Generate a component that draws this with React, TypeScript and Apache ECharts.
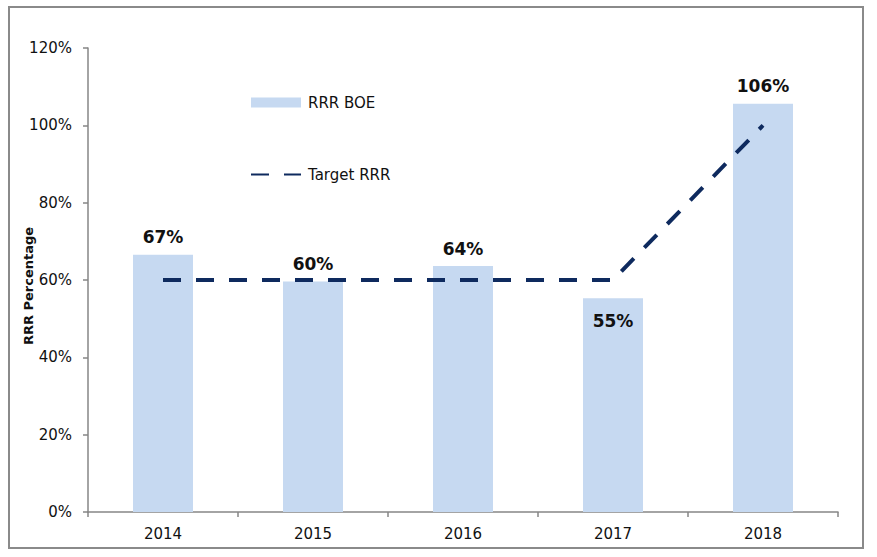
import React, { useEffect, useRef } from "react";
import * as echarts from "echarts";

const categories = ["2014", "2015", "2016", "2017", "2018"];
const rrrBoe = [66.5, 59.6, 63.6, 55.3, 105.6];
const targetRrr = [60, 60, 60, 60, 100];
const yTicks = [0, 20, 40, 60, 80, 100, 120];
const yAxisTitle = "RRR Percentage";

const FONT = "'DejaVu Sans', 'Open Sans', sans-serif";

export default function App() {
  const ref = useRef<HTMLDivElement>(null);
  useEffect(() => {
    if (!ref.current) return;
    const chart = echarts.init(ref.current, undefined, { renderer: "svg" });
    chart.setOption({
      animation: false,
      backgroundColor: "#ffffff",
      textStyle: { fontFamily: FONT },
      graphic: [
        {
          type: "rect",
          shape: { x: 9, y: 7, width: 854, height: 541 },
          style: { fill: "none", stroke: "#8a8a8a", lineWidth: 2 },
          silent: true,
        },
        {
          type: "text",
          x: 28,
          y: 286,
          rotation: Math.PI / 2,
          style: {
            text: yAxisTitle,
            font: "bold 13px " + FONT,
            fill: "#111",
            align: "center",
            verticalAlign: "middle",
          },
          silent: true,
        },
      ],
      legend: {
        orient: "vertical",
        left: 250,
        top: 95,
        padding: 0,
        itemGap: 57,
        itemWidth: 50,
        itemHeight: 10,
        itemStyle: { borderWidth: 0 },
        textStyle: { fontFamily: FONT, fontSize: 15, color: "#111", padding: [0, 0, 0, 2] },
        data: [
          { name: "RRR BOE", icon: "rect" },
          { name: "Target RRR", itemStyle: { opacity: 0 } },
        ],
      },
      grid: { left: 88, right: 39, top: 48, bottom: 45, containLabel: false },
      xAxis: {
        type: "category",
        data: categories,
        boundaryGap: true,
        axisLine: { lineStyle: { color: "#868686", width: 1.5 } },
        axisTick: { show: true, length: 5, alignWithLabel: false, lineStyle: { color: "#868686", width: 1.5 } },
        axisLabel: { color: "#111", fontSize: 15, fontFamily: FONT, margin: 14 },
      },
      yAxis: {
        type: "value",
        min: 0,
        max: 120,
        interval: 20,
        axisLine: { show: true, lineStyle: { color: "#868686", width: 1.5 } },
        axisTick: { show: true, length: 5, lineStyle: { color: "#868686", width: 1.5 } },
        splitLine: { show: false },
        axisLabel: {
          color: "#111",
          fontSize: 15,
          fontFamily: FONT,
          margin: 16,
          formatter: (v: number) => (yTicks.includes(v) ? v + "%" : ""),
        },
      },
      series: [
        {
          name: "RRR BOE",
          type: "bar",
          data: rrrBoe.map((v, i) => ({
            value: v,
            label:
              i === 3
                ? { position: "insideTop", distance: 14 }
                : { position: "top", distance: 9 },
          })),
          barWidth: 60,
          itemStyle: { color: "#C6D9F1" },
          label: {
            show: true,
            fontWeight: "bold",
            fontSize: 17,
            color: "#111",
            fontFamily: FONT,
            formatter: (p: any) => Math.round(p.value) + "%",
          },
          z: 1,
        },
        {
          name: "Target RRR",
          type: "line",
          data: targetRrr,
          symbol: "none",
          smooth: false,
          lineStyle: { color: "#0E2A5E", width: 4, type: [18, 15] },
          itemStyle: { color: "#0E2A5E" },
          z: 3,
        },
      ],
    });
    return () => chart.dispose();
  }, []);
  return (
    <div
      ref={ref}
      style={{ position: "fixed", left: 0, top: 0, width: 877, height: 557 }}
    />
  );
}
